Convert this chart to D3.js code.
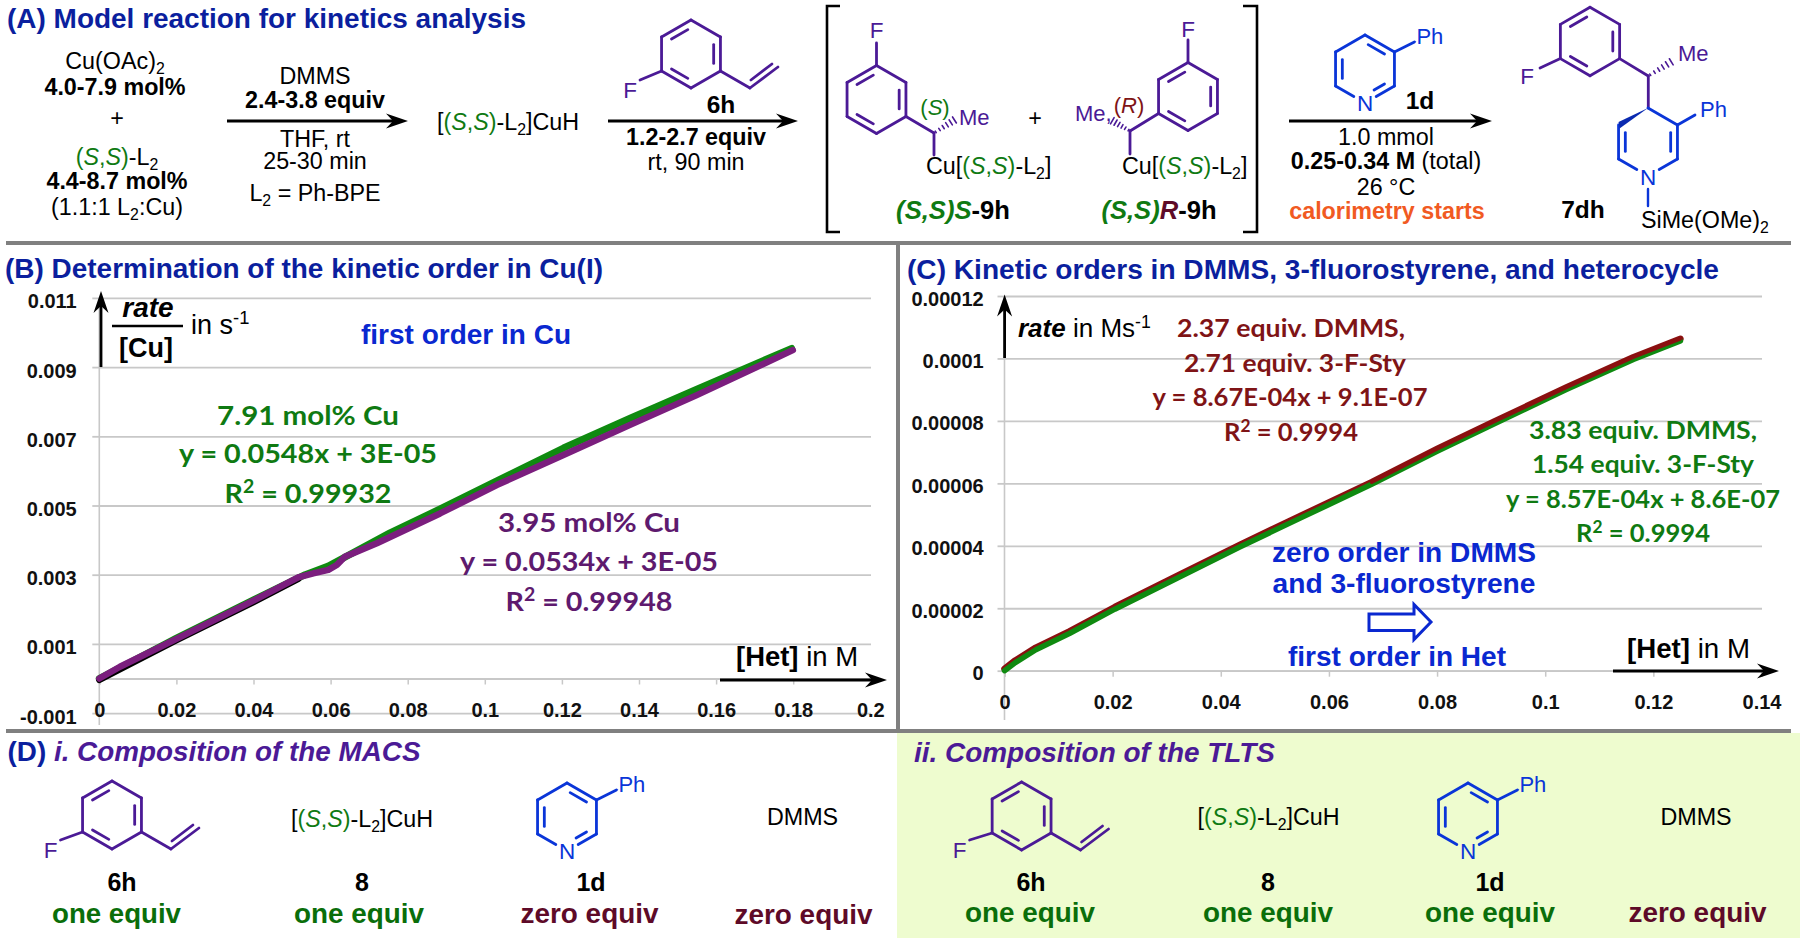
<!DOCTYPE html>
<html>
<head>
<meta charset="utf-8">
<script src="https://cdn.jsdelivr.net/npm/d3@7"></script>
<style>
  html, body { margin: 0; background: #fff; }
  svg { display: block; }
  .tick text { font-family: "Liberation Sans", Arial, sans-serif; font-weight: 700; fill: #111; }
</style>
</head>
<body>
<div id="chartDiv"></div>
<script>
// panel B, rate/[Cu] against [Het]
const xTicksB = [0, 0.02, 0.04, 0.06, 0.08, 0.1, 0.12, 0.14, 0.16, 0.18, 0.2];
const yTicksB = [-0.001, 0.001, 0.003, 0.005, 0.007, 0.009, 0.011];
const hetGreenB = [0, 0.0199, 0.04, 0.0534, 0.0594, 0.0754, 0.0884, 0.1031, 0.1204, 0.1377, 0.155, 0.1796];
const rateGreenB = [0, 0.00116, 0.00227, 0.003, 0.00325, 0.00421, 0.0049, 0.00571, 0.00666, 0.00752, 0.00836, 0.00954];
const hetPurpleB = [0, 0.00537, 0.0199, 0.04, 0.0516, 0.0555, 0.0594, 0.0616, 0.0637, 0.072, 0.0884, 0.1031, 0.1204, 0.1377, 0.155, 0.1799];
const ratePurpleB = [0, 0.00034, 0.00114, 0.00225, 0.00292, 0.00304, 0.00314, 0.00328, 0.00352, 0.00391, 0.00477, 0.00559, 0.00646, 0.00733, 0.00819, 0.00949];
const hetBlackB = [0, 0.0199, 0.04, 0.0516];
const rateBlackB = [-0.00004, 0.0011, 0.00221, 0.00288];

// panel C, rate against [Het]
const xTicksC = [0, 0.02, 0.04, 0.06, 0.08, 0.1, 0.12, 0.14];
const yTicksC = [0, 0.00002, 0.00004, 0.00006, 0.00008, 0.0001, 0.00012];
const hetC = [0, 0.002, 0.0058, 0.012, 0.0204, 0.032, 0.0436, 0.055, 0.0679, 0.08, 0.0907, 0.104, 0.1163, 0.125];
const rateRedC = [0.0000006, 0.0000033, 0.0000074, 0.0000126, 0.0000204, 0.0000304, 0.0000404, 0.0000498, 0.0000604, 0.000071, 0.0000799, 0.0000908, 0.0001004, 0.0001063];
const rateGreenC = [0, 0.0000026, 0.0000067, 0.0000119, 0.0000197, 0.0000297, 0.0000397, 0.0000491, 0.0000597, 0.0000703, 0.0000792, 0.0000901, 0.0000997, 0.0001056];

const BLUE_T = '#0b1f9e', PURPLE = '#4b1a96', PYBLUE = '#0a35d8', GREEN = '#0f7a12', DKGREEN = '#0a6e0a',
      MAROON = '#5e0a28', RED = '#7f1416', CUPURPLE = '#5e1a6e', ANNBLUE = '#0a28d0';
const SANS = '"Liberation Sans", Arial, sans-serif', LATO = 'Lato, sans-serif';

const svg = d3.select('#chartDiv').append('svg').attr('width', 1800).attr('height', 942);

// text with mixed styles, parts = [text | {t, fill, b, i, sub, sup}]
function rich(x, y, parts, o) {
    o = o || {};
    const size = o.size || 23.3;
    const txt = svg.append('text')
        .attr('x', x).attr('y', y)
        .attr('text-anchor', o.anchor || 'middle')
        .style('font-family', o.font || SANS)
        .style('font-size', size + 'px')
        .style('font-weight', o.b ? 700 : 400)
        .style('font-style', o.i ? 'italic' : 'normal')
        .style('fill', o.fill || '#000');
    let shift = 0;
    (Array.isArray(parts) ? parts : [parts]).forEach(p => {
        if (typeof p === 'string') p = {t: p};
        const ts = txt.append('tspan').text(p.t);
        let want = 0;
        if (p.sub) want = size * 0.22;
        if (p.sup) want = -size * 0.36;
        if (want !== shift) ts.attr('dy', want - shift);
        shift = want;
        if (p.sub || p.sup) ts.style('font-size', (size * 0.68) + 'px');
        if (p.fill) ts.style('fill', p.fill);
        if (p.b !== undefined) ts.style('font-weight', p.b ? 700 : 400);
        if (p.i !== undefined) ts.style('font-style', p.i ? 'italic' : 'normal');
    });
    if (o.w) txt.attr('textLength', o.w).attr('lengthAdjust', 'spacingAndGlyphs');
    return txt;
}

function bond(x1, y1, x2, y2, color, w) {
    svg.append('line').attr('x1', x1).attr('y1', y1).attr('x2', x2).attr('y2', y2)
        .attr('stroke', color).attr('stroke-width', w || 2.8).attr('stroke-linecap', 'round');
}

// six ring, pointy top. vertex 0 = top, clockwise. doubles = edge numbers with an inner line
function ring(cx, cy, r, color, doubles, nGap) {
    const pts = d3.range(6).map(i => {
        const a = Math.PI / 3 * i - Math.PI / 2;
        return [cx + r * Math.cos(a), cy + r * Math.sin(a)];
    });
    d3.range(6).forEach(i => {
        let a = pts[i], b = pts[(i + 1) % 6];
        if (nGap && i === 2) b = [a[0] + (b[0] - a[0]) * 0.62, a[1] + (b[1] - a[1]) * 0.62];
        if (nGap && i === 3) a = [b[0] + (a[0] - b[0]) * 0.62, b[1] + (a[1] - b[1]) * 0.62];
        if (nGap !== 'wedge' || i !== 5) bond(a[0], a[1], b[0], b[1], color);
    });
    doubles.forEach(i => {
        const a = pts[i], b = pts[(i + 1) % 6], k = 0.77;
        const p = t => {
            const m = [a[0] + (b[0] - a[0]) * t, a[1] + (b[1] - a[1]) * t];
            return [cx + (m[0] - cx) * k, cy + (m[1] - cy) * k];
        };
        const p1 = p(0.14), p2 = p(nGap && (i === 2 || i === 3) ? 0.6 : 0.86);
        bond(p1[0], p1[1], p2[0], p2[1], color);
    });
    return pts;
}

function hashed(x1, y1, x2, y2, color) {
    const dx = x2 - x1, dy = y2 - y1, len = Math.hypot(dx, dy);
    d3.range(6).forEach(i => {
        const t = 0.08 + i * 0.17, half = 0.6 + t * 3.2;
        const mx = x1 + dx * t, my = y1 + dy * t;
        bond(mx - dy / len * half, my + dx / len * half, mx + dy / len * half, my - dx / len * half, color, 1.6);
    });
}

function arrow(x1, y1, x2, y2, w) {
    const a = Math.atan2(y2 - y1, x2 - x1);
    const g = svg.append('g').attr('transform', `translate(${x2},${y2}) rotate(${a * 180 / Math.PI})`);
    const len = Math.hypot(x2 - x1, y2 - y1);
    g.append('line').attr('x1', -len).attr('x2', -8).attr('stroke', '#000').attr('stroke-width', w || 3);
    g.append('path').attr('d', 'M0,0L-22,-7.5L-15,0L-22,7.5Z').attr('fill', '#000');
}

function styrene(cx, cy, fx, fy) {
    const p = ring(cx, cy, 34, PURPLE, [5, 1, 3]);
    bond(p[4][0], p[4][1], fx + 10, fy - 18, PURPLE);
    rich(fx, fy, 'F', {fill: PURPLE, size: 22.5});
    const v1 = [p[2][0] + 29.5, p[2][1] + 17], v2 = [v1[0] + 28, v1[1] - 21];
    bond(p[2][0], p[2][1], v1[0], v1[1], PURPLE);
    bond(v1[0], v1[1], v2[0], v2[1], PURPLE);
    bond(v1[0] + 1, v1[1] - 8, v2[0] - 6, v2[1] - 3, PURPLE);
}

function pyridine(cx, cy) {
    const p = ring(cx, cy, 34, PYBLUE, [0, 4, 2], true);
    bond(p[1][0], p[1][1], p[1][0] + 20, p[1][1] - 10, PYBLUE);
    rich(p[1][0] + 22, p[1][1] - 8, 'Ph', {anchor: 'start', fill: PYBLUE, size: 22});
    rich(cx, cy + 42, 'N', {fill: PYBLUE, size: 22.5});
}

const cuh2 = [ '[', {t: '(', fill: GREEN}, {t: 'S', i: true, fill: GREEN}, {t: ',', fill: GREEN}, {t: 'S', i: true, fill: GREEN}, {t: ')', fill: GREEN}, '-L', {t: '2', sub: true}, {t: ']CuH'} ];
const cuLig = [ 'Cu[', {t: '(', fill: GREEN}, {t: 'S', i: true, fill: GREEN}, {t: ',', fill: GREEN}, {t: 'S', i: true, fill: GREEN}, {t: ')', fill: GREEN}, '-L', {t: '2', sub: true}, {t: ']'} ];

// green panel + dividers
svg.append('rect').attr('x', 897).attr('y', 733).attr('width', 903).attr('height', 205).attr('fill', '#eefccf');
[[6, 243, 1791, 243], [6, 731, 1791, 731], [898, 243, 898, 731]].forEach(d => {
    svg.append('line').attr('x1', d[0]).attr('y1', d[1]).attr('x2', d[2]).attr('y2', d[3])
        .attr('stroke', '#808080').attr('stroke-width', 4);
});

/* ---------- panel A ---------- */
rich(7, 28, '(A) Model reaction for kinetics analysis', {anchor: 'start', b: true, fill: BLUE_T, size: 28, w: 519});
rich(115, 69, ['Cu(OAc)', {t: '2', sub: true}]);
rich(115, 95, '4.0-7.9 mol%', {b: true});
rich(117, 126, '+');
rich(117, 165, [{t: '(', fill: GREEN}, {t: 'S', i: true, fill: GREEN}, {t: ',', fill: GREEN}, {t: 'S', i: true, fill: GREEN}, {t: ')', fill: GREEN}, '-L', {t: '2', sub: true}]);
rich(117, 189, '4.4-8.7 mol%', {b: true});
rich(117, 215, ['(1.1:1 L', {t: '2', sub: true}, {t: ':Cu)'}]);

rich(315, 84, 'DMMS');
rich(315, 108, '2.4-3.8 equiv', {b: true});
arrow(227, 121, 408, 121);
rich(315, 147, 'THF, rt');
rich(315, 169, '25-30 min');
rich(315, 201, ['L', {t: '2', sub: true}, {t: ' = Ph-BPE'}]);

rich(508, 130, cuh2);
styrene(691, 54, 630, 98);
rich(721, 113, '6h', {b: true, size: 24.5});
arrow(608, 121, 798, 121);
rich(696, 145, '1.2-2.7 equiv', {b: true});
rich(696, 170, 'rt, 90 min');

svg.append('path').attr('d', 'M840,6H827V232H840M1243,6H1257V232H1243').attr('fill', 'none').attr('stroke', '#000').attr('stroke-width', 2.6);

let p = ring(876.5, 99.5, 34, PURPLE, [5, 1, 3]);
bond(p[0][0], p[0][1], p[0][0], 43, PURPLE);
rich(876.5, 38, 'F', {fill: PURPLE, size: 22.5});
bond(p[2][0], p[2][1], 934, 133, PURPLE);
bond(934, 133, 934, 155, PURPLE);
hashed(934, 133, 956, 119, PURPLE);
rich(959, 125, 'Me', {anchor: 'start', fill: PURPLE, size: 22});
rich(935, 115, [{t: '(', i: false}, {t: 'S', i: true}, {t: ')', i: false}], {fill: GREEN, size: 22});
rich(926, 174, cuLig, {anchor: 'start'});
rich(1035, 126, '+');

p = ring(1188, 96.5, 34, PURPLE, [5, 1, 3]);
bond(p[0][0], p[0][1], p[0][0], 40, PURPLE);
rich(1188, 37, 'F', {fill: PURPLE, size: 22.5});
bond(p[4][0], p[4][1], 1130, 131, PURPLE);
bond(1130, 131, 1130, 154, PURPLE);
hashed(1130, 131, 1111, 120, PURPLE);
rich(1075, 121, 'Me,', {anchor: 'start', fill: PURPLE, size: 22});
rich(1129, 113, [{t: '(', i: false}, {t: 'R', i: true}, {t: ')', i: false}], {fill: RED, size: 22});
rich(1122, 174, cuLig, {anchor: 'start'});

rich(953, 219, [{t: '(S,S)S', fill: GREEN, i: true}, '-9h'], {b: true, size: 25.6});
rich(1159, 219, [{t: '(S,S)', fill: GREEN, i: true}, {t: 'R', fill: MAROON, i: true}, '-9h'], {b: true, size: 25.6});

pyridine(1365, 69);
rich(1420, 109, '1d', {b: true, size: 24.5});
arrow(1289, 121, 1492, 121);
rich(1386, 145, '1.0 mmol');
rich(1386, 169, [{t: '0.25-0.34 M', b: true}, ' (total)']);
rich(1386, 195, '26 °C');
rich(1387, 219, 'calorimetry starts', {b: true, fill: '#f15a22'});

p = ring(1590, 41.5, 34.2, PURPLE, [5, 1, 3]);
bond(p[4][0], p[4][1], 1540, 68, PURPLE);
rich(1527, 84, 'F', {fill: PURPLE, size: 22.5});
bond(p[2][0], p[2][1], 1648.3, 76, PURPLE);
hashed(1648.3, 76, 1673, 60.7, PURPLE);
rich(1678, 60.7, 'Me', {anchor: 'start', fill: PURPLE, size: 22});
bond(1648.3, 76, 1648.3, 108, PURPLE);
p = ring(1648, 142, 34, PYBLUE, [1, 4], 'wedge');
svg.append('path').attr('d', d3.line()([[p[0][0], p[0][1]], [p[5][0], p[5][1] - 3], [p[5][0] + 1, p[5][1] + 3.5]]) + 'Z').attr('fill', '#0a2ab0');
bond(p[1][0], p[1][1], 1695, 115, PYBLUE);
rich(1700, 116.7, 'Ph', {anchor: 'start', fill: PYBLUE, size: 22});
rich(1648, 185, 'N', {fill: PYBLUE, size: 22.5});
bond(1648, 189, 1648, 206, PYBLUE, 2.4);
rich(1641, 228.3, ['SiMe(OMe)', {t: '2', sub: true}], {anchor: 'start'});
rich(1583, 218, '7dh', {b: true, size: 24.5});

/* ---------- charts ---------- */
function chart(o) {
    const x = d3.scaleLinear().domain(o.xDomain).range(o.xRange);
    const y = d3.scaleLinear().domain(o.yDomain).range(o.yRange);

    const yAxis = d3.axisLeft(y).tickValues(o.yTicks).tickFormat(d => String(d))
        .tickSize(-(o.gridEnd - x(0))).tickPadding(x(0) - o.labelRight);
    const gy = svg.append('g').attr('transform', `translate(${x(0)},0)`).call(yAxis);
    gy.select('.domain').remove();
    gy.selectAll('.tick line').attr('stroke', '#c8c8c8').attr('stroke-width', 1.8);
    gy.selectAll('.tick text').style('font-size', o.fontSize + 'px').attr('dy', o.yLabelDy);
    // the gridlines start a little left of the axis
    gy.selectAll('.tick').append('line').attr('x1', -7).attr('x2', 0).attr('stroke', '#c8c8c8').attr('stroke-width', 1.8);

    svg.append('line').attr('x1', x(0)).attr('x2', x(0)).attr('y1', y.range()[1]).attr('y2', o.axisBottom)
        .attr('stroke', '#c8c8c8').attr('stroke-width', 1.6);

    const xAxis = d3.axisBottom(x).tickValues(o.xTicks).tickFormat(d => String(d))
        .tickSize(o.tickLen).tickPadding(o.xPad);
    const gx = svg.append('g').attr('transform', `translate(0,${y(0)})`).call(xAxis);
    gx.select('.domain').attr('stroke', '#c8c8c8').attr('stroke-width', 1.8);
    gx.selectAll('.tick line').attr('stroke', '#c8c8c8').attr('stroke-width', 1.5);
    gx.selectAll('.tick text').style('font-size', o.fontSize + 'px');

    const line = d3.line().x(d => x(d[0])).y(d => y(d[1]));
    o.series.forEach(s => {
        svg.append('path').datum(d3.zip(s.het, s.rate)).attr('d', line)
            .attr('fill', 'none').attr('stroke', s.color).attr('stroke-width', s.width)
            .attr('stroke-linecap', 'round').attr('stroke-linejoin', 'round');
    });
}

rich(5, 278, '(B) Determination of the kinetic order in Cu(I)', {anchor: 'start', b: true, fill: BLUE_T, size: 28, w: 598});
chart({
    xDomain: [0, 0.2], xRange: [99.3, 870.3],
    yDomain: [-0.001, 0.011], yRange: [713.1, 297.9],
    xTicks: xTicksB, yTicks: yTicksB,
    gridEnd: 871, labelRight: 76.7, axisBottom: 725,
    fontSize: 20, yLabelDy: '0.5em', tickLen: 6, xPad: 18,
    series: [
        {het: hetGreenB, rate: rateGreenB, color: '#0f8a10', width: 7},
        {het: hetBlackB, rate: rateBlackB, color: '#000', width: 6.5},
        {het: hetPurpleB, rate: ratePurpleB, color: '#7b1e7e', width: 6.5}
    ]
});
arrow(101, 367, 101, 291, 2.8);
rich(148, 316.7, 'rate', {b: true, i: true, size: 28});
svg.append('line').attr('x1', 112).attr('x2', 183).attr('y1', 326).attr('y2', 326).attr('stroke', '#000').attr('stroke-width', 2.6);
rich(146, 356.7, '[Cu]', {b: true, size: 27});
rich(191, 334, ['in s', {t: '-1', sup: true}], {anchor: 'start', size: 27});
rich(466, 344, 'first order in Cu', {b: true, fill: ANNBLUE, size: 27, w: 210});
rich(308, 425, '7.91 mol% Cu', {b: true, fill: GREEN, size: 27.5, font: LATO, w: 182});
rich(308, 463, 'y = 0.0548x + 3E-05', {b: true, fill: GREEN, size: 27.5, font: LATO, w: 258});
rich(308, 502.5, ['R', {t: '2', sup: true}, {t: ' = 0.99932'}], {b: true, fill: GREEN, size: 27.5, font: LATO, w: 167});
rich(589, 532, '3.95 mol% Cu', {b: true, fill: CUPURPLE, size: 27.5, font: LATO, w: 182});
rich(589, 571, 'y = 0.0534x + 3E-05', {b: true, fill: CUPURPLE, size: 27.5, font: LATO, w: 258});
rich(589, 610.5, ['R', {t: '2', sup: true}, {t: ' = 0.99948'}], {b: true, fill: CUPURPLE, size: 27.5, font: LATO, w: 167});
rich(736, 666, [{t: '[Het]', b: true}, ' in M'], {anchor: 'start', size: 27, w: 122});
arrow(720, 680, 887, 680);

rich(907, 279, '(C) Kinetic orders in DMMS, 3-fluorostyrene, and heterocycle', {anchor: 'start', b: true, fill: BLUE_T, size: 28, w: 812});
chart({
    xDomain: [0, 0.14], xRange: [1004.5, 1761.5],
    yDomain: [0, 0.00012], yRange: [670.7, 296],
    xTicks: xTicksC, yTicks: yTicksC,
    gridEnd: 1762, labelRight: 983.7, axisBottom: 720,
    fontSize: 20, yLabelDy: '0.45em', tickLen: 6, xPad: 18,
    series: [
        {het: hetC, rate: rateRedC, color: '#8b1010', width: 6.5},
        {het: hetC, rate: rateGreenC, color: '#0f8a10', width: 5.5},
        {het: hetC.slice(8), rate: rateRedC.slice(8), color: '#8b1010', width: 3.5}
    ]
});
arrow(1004.6, 358, 1004.6, 294.5, 2.8);
rich(1018, 337, [{t: 'rate', b: true, i: true}, ' in Ms', {t: '-1', sup: true}], {anchor: 'start', size: 26});
rich(1291, 337, '2.37 equiv. DMMS,', {b: true, fill: RED, size: 24.5, font: LATO, w: 228});
rich(1295, 372, '2.71 equiv. 3-F-Sty', {b: true, fill: RED, size: 24.5, font: LATO, w: 222});
rich(1290, 405.5, 'y = 8.67E-04x + 9.1E-07', {b: true, fill: RED, size: 24.5, font: LATO, w: 275});
rich(1291, 440.5, ['R', {t: '2', sup: true}, {t: ' = 0.9994'}], {b: true, fill: RED, size: 24.5, font: LATO, w: 134});
rich(1643, 439, '3.83 equiv. DMMS,', {b: true, fill: GREEN, size: 24.5, font: LATO, w: 228});
rich(1643, 473, '1.54 equiv. 3-F-Sty', {b: true, fill: GREEN, size: 24.5, font: LATO, w: 222});
rich(1643, 507.5, 'y = 8.57E-04x + 8.6E-07', {b: true, fill: GREEN, size: 24.5, font: LATO, w: 274});
rich(1643, 542, ['R', {t: '2', sup: true}, {t: ' = 0.9994'}], {b: true, fill: GREEN, size: 24.5, font: LATO, w: 134});
rich(1404, 561.7, 'zero order in DMMS', {b: true, fill: ANNBLUE, size: 27, w: 264});
rich(1404, 593, 'and 3-fluorostyrene', {b: true, fill: ANNBLUE, size: 27, w: 263});
svg.append('path').attr('d', 'M1369,614H1414V604.5L1431,622L1414,639.6V630.6H1369Z')
    .attr('fill', '#fff').attr('stroke', ANNBLUE).attr('stroke-width', 3);
rich(1397, 666, 'first order in Het', {b: true, fill: ANNBLUE, size: 27, w: 218});
rich(1627, 658, [{t: '[Het]', b: true}, ' in M'], {anchor: 'start', size: 27, w: 123});
arrow(1613, 671, 1779, 671);

/* ---------- panel D ---------- */
rich(7.5, 761, [{t: '(D) ', fill: BLUE_T, i: false}, 'i. Composition of the MACS'], {anchor: 'start', b: true, i: true, fill: PURPLE, size: 27, w: 413});
styrene(112, 815, 50.5, 858);
rich(362, 827, cuh2);
pyridine(567, 817);
rich(802.5, 825, 'DMMS');
rich(122, 891, '6h', {b: true, size: 25});
rich(362, 891, '8', {b: true, size: 25});
rich(591, 891, '1d', {b: true, size: 25});
rich(116.5, 923, 'one equiv', {b: true, fill: DKGREEN, size: 28, w: 129});
rich(359, 923, 'one equiv', {b: true, fill: DKGREEN, size: 28, w: 130});
rich(589.5, 923, 'zero equiv', {b: true, fill: MAROON, size: 28, w: 138});
rich(803.5, 924, 'zero equiv', {b: true, fill: MAROON, size: 28, w: 138});

rich(914, 762, 'ii. Composition of the TLTS', {anchor: 'start', b: true, i: true, fill: PURPLE, size: 27, w: 361});
styrene(1021.6, 816, 959.6, 858);
rich(1268.5, 825, cuh2);
pyridine(1468, 817);
rich(1696, 825, 'DMMS');
rich(1031, 891, '6h', {b: true, size: 25});
rich(1268, 891, '8', {b: true, size: 25});
rich(1490, 891, '1d', {b: true, size: 25});
rich(1030, 922, 'one equiv', {b: true, fill: DKGREEN, size: 28, w: 130});
rich(1268, 922, 'one equiv', {b: true, fill: DKGREEN, size: 28, w: 130});
rich(1490, 922, 'one equiv', {b: true, fill: DKGREEN, size: 28, w: 130});
rich(1697.5, 922, 'zero equiv', {b: true, fill: MAROON, size: 28, w: 138});
</script>
</body>
</html>
